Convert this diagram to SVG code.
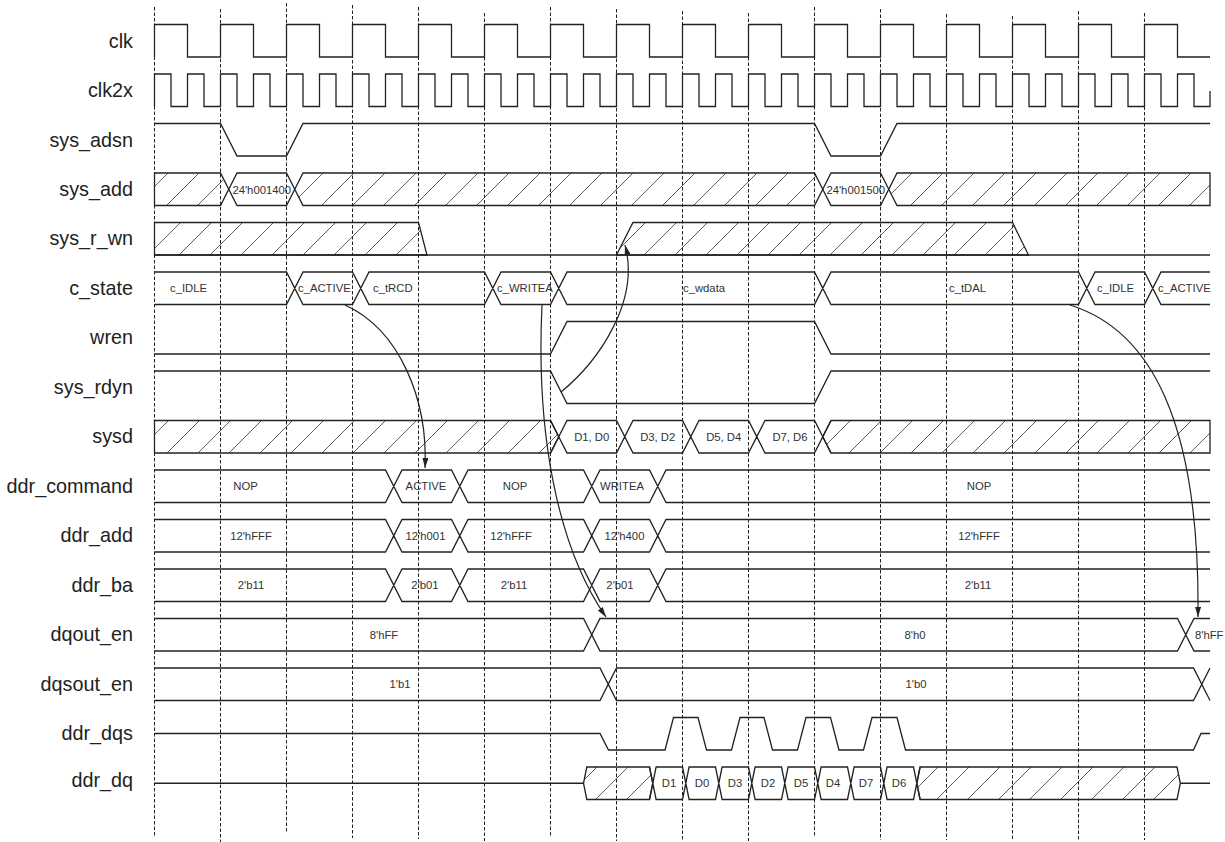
<svg xmlns="http://www.w3.org/2000/svg" width="1225" height="842" viewBox="0 0 1225 842">
<style>
.bg{fill:#fff}
.grid{stroke:#222;stroke-width:1;stroke-dasharray:3.5 2;fill:none}
.sig{stroke:#222;stroke-width:1.3;fill:none;stroke-linejoin:miter}
.hat{stroke:#222;stroke-width:1.3;fill:url(#hatch)}
.name{font-family:"Liberation Sans",Arial,sans-serif;font-size:19.8px;fill:#222;text-anchor:end}
.val{font-family:"Liberation Sans",Arial,sans-serif;font-size:11.3px;fill:#333;text-anchor:middle}
.vs{font-family:"Liberation Sans",Arial,sans-serif;font-size:11.3px;fill:#333;text-anchor:start}
.arr{stroke:#222;stroke-width:1.2;fill:none;marker-end:url(#ah)}
</style>
<defs>
<pattern id="hatch" patternUnits="userSpaceOnUse" width="31" height="31">
<path d="M0,31L31,0M-2,2L2,-2M29,33L33,29" stroke="#333" stroke-width="0.8" fill="none"/>
</pattern>
<marker id="ah" viewBox="0 0 10 6" refX="10" refY="3" markerWidth="10" markerHeight="6" markerUnits="userSpaceOnUse" orient="auto">
<path d="M0,0L10,3L0,6Z" fill="#222"/>
</marker>
</defs>
<rect class="bg" x="0" y="0" width="1225" height="842"/>
<g id="grid" class="grid">
<path d="M154.5,7V837M220.5,9V842M286.5,3V832M352.5,5V838M418.5,7V839M484.5,13V841M550.5,7V837M616.5,9V841M682.5,11V841M748.5,13V841M814.5,7V837M880.5,9V840M946.5,14V840M1012.5,16V840M1078.5,11V840M1144.5,13V840"/>
</g>
<g id="labels">
<text class="name" x="133" y="47.5">clk</text>
<text class="name" x="133" y="97">clk2x</text>
<text class="name" x="133" y="146.5">sys_adsn</text>
<text class="name" x="133" y="195.5">sys_add</text>
<text class="name" x="133" y="245">sys_r_wn</text>
<text class="name" x="133" y="294.5">c_state</text>
<text class="name" x="133" y="344">wren</text>
<text class="name" x="133" y="393.5">sys_rdyn</text>
<text class="name" x="133" y="443">sysd</text>
<text class="name" x="133" y="492.5">ddr_command</text>
<text class="name" x="133" y="542">ddr_add</text>
<text class="name" x="133" y="591.5">ddr_ba</text>
<text class="name" x="133" y="641">dqout_en</text>
<text class="name" x="133" y="690.5">dqsout_en</text>
<text class="name" x="133" y="739.5">ddr_dqs</text>
<text class="name" x="133" y="787">ddr_dq</text>
</g>
<g id="clk">
<path class="sig" d="M154.5,57V24.5H187.5V57H220.5V24.5H253.5V57H286.5V24.5H319.5V57H352.5V24.5H385.5V57H418.5V24.5H451.5V57H484.5V24.5H517.5V57H550.5V24.5H583.5V57H616.5V24.5H649.5V57H682.5V24.5H715.5V57H748.5V24.5H781.5V57H814.5V24.5H847.5V57H880.5V24.5H913.5V57H946.5V24.5H979.5V57H1012.5V24.5H1045.5V57H1078.5V24.5H1111.5V57H1144.5V24.5H1177.5V57H1210"/>
</g>
<g id="clk2x">
<path class="sig" d="M154.5,106.5V74H171V106.5H187.5V74H204V106.5H220.5V74H237V106.5H253.5V74H270V106.5H286.5V74H303V106.5H319.5V74H336V106.5H352.5V74H369V106.5H385.5V74H402V106.5H418.5V74H435V106.5H451.5V74H468V106.5H484.5V74H501V106.5H517.5V74H534V106.5H550.5V74H567V106.5H583.5V74H600V106.5H616.5V74H633V106.5H649.5V74H666V106.5H682.5V74H699V106.5H715.5V74H732V106.5H748.5V74H765V106.5H781.5V74H798V106.5H814.5V74H831V106.5H847.5V74H864V106.5H880.5V74H897V106.5H913.5V74H930V106.5H946.5V74H963V106.5H979.5V74H996V106.5H1012.5V74H1029V106.5H1045.5V74H1062V106.5H1078.5V74H1095V106.5H1111.5V74H1128V106.5H1144.5V74H1161V106.5H1177.5V74H1194V106.5H1210V91"/>
</g>
<g id="sys_adsn">
<path class="sig" d="M154.5,123.5H220.5L237,156H286.5L303,123.5H814.5L831,156H880.5L897,123.5H1210"/>
</g>
<g id="sys_add">
<path class="hat" d="M154.5,173H220.5L228.75,189.25L220.5,205.5H154.5Z"/>
<path class="sig" d="M228.75,189.25L237,173H286.5L294.75,189.25L286.5,205.5H237Z"/>
<path class="hat" d="M294.75,189.25L303,173H814.5L822.75,189.25L814.5,205.5H303Z"/>
<path class="sig" d="M822.75,189.25L831,173H880.5L888.75,189.25L880.5,205.5H831Z"/>
<path class="hat" d="M888.75,189.25L897,173H1210V205.5H897Z"/>
<text class="val" x="261.75" y="193.5">24'h001400</text>
<text class="val" x="855.75" y="193.5">24'h001500</text>
</g>
<g id="sys_r_wn">
<path class="hat" d="M154.5,222.5H418.5L427,255H154.5Z"/>
<path class="hat" d="M616.5,255L633,222.5H1012.5L1028.5,255Z"/>
<path class="sig" d="M154.5,255H1210"/>
</g>
<g id="c_state">
<path class="sig" d="M154.5,272H286.5L303,304.5H352.5L369,272H484.5L501,304.5H550.5L567,272H814.5L831,304.5H1078.5L1095,272H1144.5L1161,304.5H1210M154.5,304.5H286.5L303,272H352.5L369,304.5H484.5L501,272H550.5L567,304.5H814.5L831,272H1078.5L1095,304.5H1144.5L1161,272H1210"/>
<text class="vs" x="170" y="292">c_IDLE</text>
<text class="vs" x="298" y="292">c_ACTIVE</text>
<text class="vs" x="373" y="292">c_tRCD</text>
<text class="vs" x="497" y="292">c_WRITEA</text>
<text class="vs" x="683" y="292">c_wdata</text>
<text class="vs" x="949" y="292">c_tDAL</text>
<text class="vs" x="1097" y="292">c_IDLE</text>
<text class="vs" x="1158" y="292">c_ACTIVE</text>
</g>
<g id="wren">
<path class="sig" d="M154.5,354H550.5L567,321.5H814.5L831,354H1210"/>
</g>
<g id="sys_rdyn">
<path class="sig" d="M154.5,371H550.5L567,403.5H814.5L831,371H1210"/>
</g>
<g id="sysd">
<path class="hat" d="M154.5,420.5H550.5L558.75,436.75L550.5,453H154.5Z"/>
<path class="sig" d="M550.5,420.5L567,453H616.5L633,420.5H682.5L699,453H748.5L765,420.5H814.5L831,453M550.5,453L567,420.5H616.5L633,453H682.5L699,420.5H748.5L765,453H814.5L831,420.5"/>
<path class="hat" d="M822.75,436.75L831,420.5H1210V453H831Z"/>
<text class="val" x="591.75" y="440.75">D1, D0</text>
<text class="val" x="657.75" y="440.75">D3, D2</text>
<text class="val" x="723.75" y="440.75">D5, D4</text>
<text class="val" x="790" y="440.75">D7, D6</text>
</g>
<g id="ddr_command">
<path class="sig" d="M154.5,470H385.5L402,502.5H451.5L468,470H583.5L600,502.5H649.5L666,470H1210M154.5,502.5H385.5L402,470H451.5L468,502.5H583.5L600,470H649.5L666,502.5H1210"/>
<text class="val" x="245.5" y="490.25">NOP</text>
<text class="val" x="426" y="490.25">ACTIVE</text>
<text class="val" x="515" y="490.25">NOP</text>
<text class="val" x="622" y="490.25">WRITEA</text>
<text class="val" x="979" y="490.25">NOP</text>
</g>
<g id="ddr_add">
<path class="sig" d="M154.5,519.5H385.5L402,552H451.5L468,519.5H583.5L600,552H649.5L666,519.5H1210M154.5,552H385.5L402,519.5H451.5L468,552H583.5L600,519.5H649.5L666,552H1210"/>
<text class="val" x="251" y="539.75">12'hFFF</text>
<text class="val" x="425.5" y="539.75">12'h001</text>
<text class="val" x="511" y="539.75">12'hFFF</text>
<text class="val" x="624.5" y="539.75">12'h400</text>
<text class="val" x="979" y="539.75">12'hFFF</text>
</g>
<g id="ddr_ba">
<path class="sig" d="M154.5,569H385.5L402,601.5H451.5L468,569H583.5L600,601.5H649.5L666,569H1210M154.5,601.5H385.5L402,569H451.5L468,601.5H583.5L600,569H649.5L666,601.5H1210"/>
<text class="val" x="251" y="589.25">2'b11</text>
<text class="val" x="425" y="589.25">2'b01</text>
<text class="val" x="514" y="589.25">2'b11</text>
<text class="val" x="620" y="589.25">2'b01</text>
<text class="val" x="978" y="589.25">2'b11</text>
</g>
<g id="dqout_en">
<path class="sig" d="M154.5,618.5H583.5L600,651H1177.5L1194,618.5H1210M154.5,651H583.5L600,618.5H1177.5L1194,651H1210"/>
<text class="val" x="384" y="638.75">8'hFF</text>
<text class="val" x="915" y="638.75">8'h0</text>
<text class="vs" x="1195" y="638.75">8'hFF</text>
</g>
<g id="dqsout_en">
<path class="sig" d="M154.5,668H600L616.5,700.5H1193.5L1210,668M154.5,700.5H600L616.5,668H1193.5L1210,700.5"/>
<text class="val" x="400" y="688.25">1'b1</text>
<text class="val" x="916" y="688.25">1'b0</text>
</g>
<g id="ddr_dqs">
<path class="sig" d="M154.5,733.5H600L608.5,750H665L673.5,717.5H698L706.5,750H731.5L740,717.5H764L772.5,750H797.5L806,717.5H830.5L839,750H863.5L872,717.5H897L905.5,750H1193.5L1201,733.5H1210"/>
</g>
<g id="ddr_dq">
<path class="sig" d="M154.5,783.25H583.5M1180.3,783.25H1210"/>
<path class="hat" d="M583.5,783.25L586.8,767H649.5L652.8,783.25L649.5,799.5H586.8Z"/>
<path class="sig" d="M649.5,767L656.1,799.5H682.5L689.1,767H715.5L722.1,799.5H748.5L755.1,767H781.5L788.1,799.5H814.5L821.1,767H847.5L854.1,799.5H880.5L887.1,767H913.5L920.1,799.5M649.5,799.5L656.1,767H682.5L689.1,799.5H715.5L722.1,767H748.5L755.1,799.5H781.5L788.1,767H814.5L821.1,799.5H847.5L854.1,767H880.5L887.1,799.5H913.5L920.1,767"/>
<path class="hat" d="M916.8,783.25L920.1,767H1177L1180.3,783.25L1177,799.5H920.1Z"/>
<text class="val" x="669" y="787.25">D1</text>
<text class="val" x="702" y="787.25">D0</text>
<text class="val" x="735" y="787.25">D3</text>
<text class="val" x="768" y="787.25">D2</text>
<text class="val" x="801" y="787.25">D5</text>
<text class="val" x="833" y="787.25">D4</text>
<text class="val" x="866" y="787.25">D7</text>
<text class="val" x="899" y="787.25">D6</text>
</g>
<g id="connectors">
<path class="arr" d="M345,305C400,330 428,400 425,468"/>
<path class="arr" d="M542,305C536,430 556,545 606,617"/>
<path class="arr" d="M1070,305C1150,330 1200,420 1198,617"/>
<path class="arr" d="M561,392C600,360 640,300 625,245"/>
</g>
</svg>
